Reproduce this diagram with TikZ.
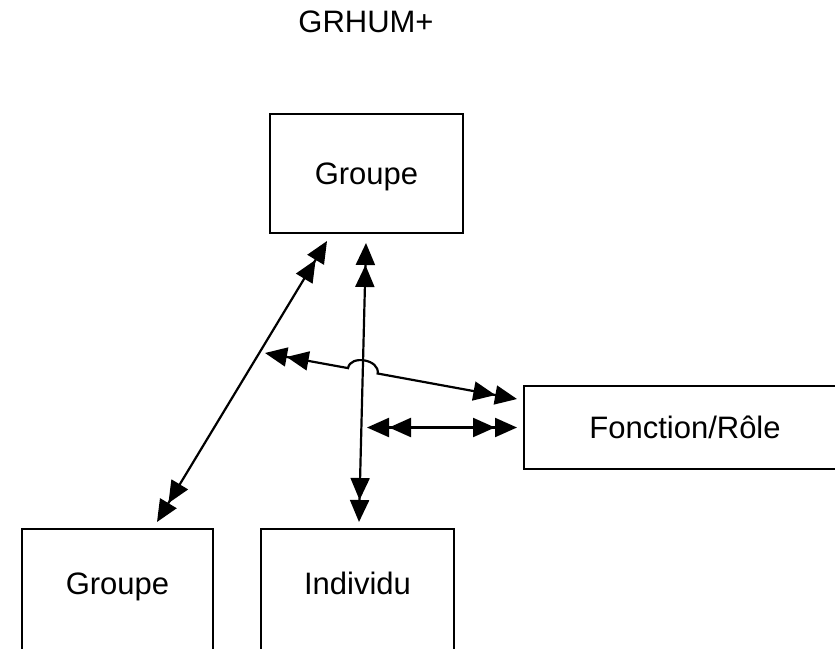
\documentclass[tikz,border=0pt]{standalone}
\usepackage{fontspec}
\setmainfont{Liberation Sans}
\usetikzlibrary{arrows.meta,calc}
\tikzset{
  dbl/.tip={Triangle[length=22pt,width=19pt]Triangle[length=22pt,width=19pt]},
  box/.style={draw,line width=2pt,minimum width=193pt,minimum height=119pt,inner sep=0pt,
    font=\fontsize{31}{36}\selectfont,text height=22pt,text depth=0pt},
  link/.style={line width=2.2pt,dbl-dbl},
  titletext/.style={inner sep=0pt,font=\fontsize{31}{36}\selectfont,text height=22pt,text depth=0pt}
}
\begin{document}
\begin{tikzpicture}[x=1pt,y=-1pt]
\useasboundingbox (0,0) rectangle (835,648);
\node[titletext] (title) at (366,21.5) {GRHUM+};
\node[box] (g1) at (366.5,173.5) {Groupe};
\node[box,minimum width=322pt,minimum height=83pt] (fr) at (685,427.5) {Fonction/Rôle};
\node[box,minimum width=191pt,minimum height=130pt,text depth=21pt] (g2) at (117.5,594) {Groupe};
\node[box,minimum height=130pt,text depth=21pt] (ind) at (357.5,594) {Individu};
% connector end points
\coordinate (d1) at ($(g1.south)+(-39.5,7)$);
\coordinate (d2) at ($(g2.north)+(39.5,-6)$);
\coordinate (v1) at ($(g1.south)+(-0.5,9)$);
\coordinate (v2) at ($(ind.north)+(1.5,-6)$);
\coordinate (s1) at (265,353);
\coordinate (s2) at ($(fr.west)+(-6,-28.5)$);
\coordinate (h1) at (367,427.5);
\coordinate (h2) at ($(fr.west)+(-6,0)$);
\draw[link] (d2) -- (d1);
\draw[link] (v1) -- (v2);
\draw[link] (s1) -- (348.0,368.1) .. controls (350.5,354.3) and (380.1,359.7) .. (377.6,373.5) -- (s2);
\draw[link] (h1) -- (h2);
\end{tikzpicture}
\end{document}
